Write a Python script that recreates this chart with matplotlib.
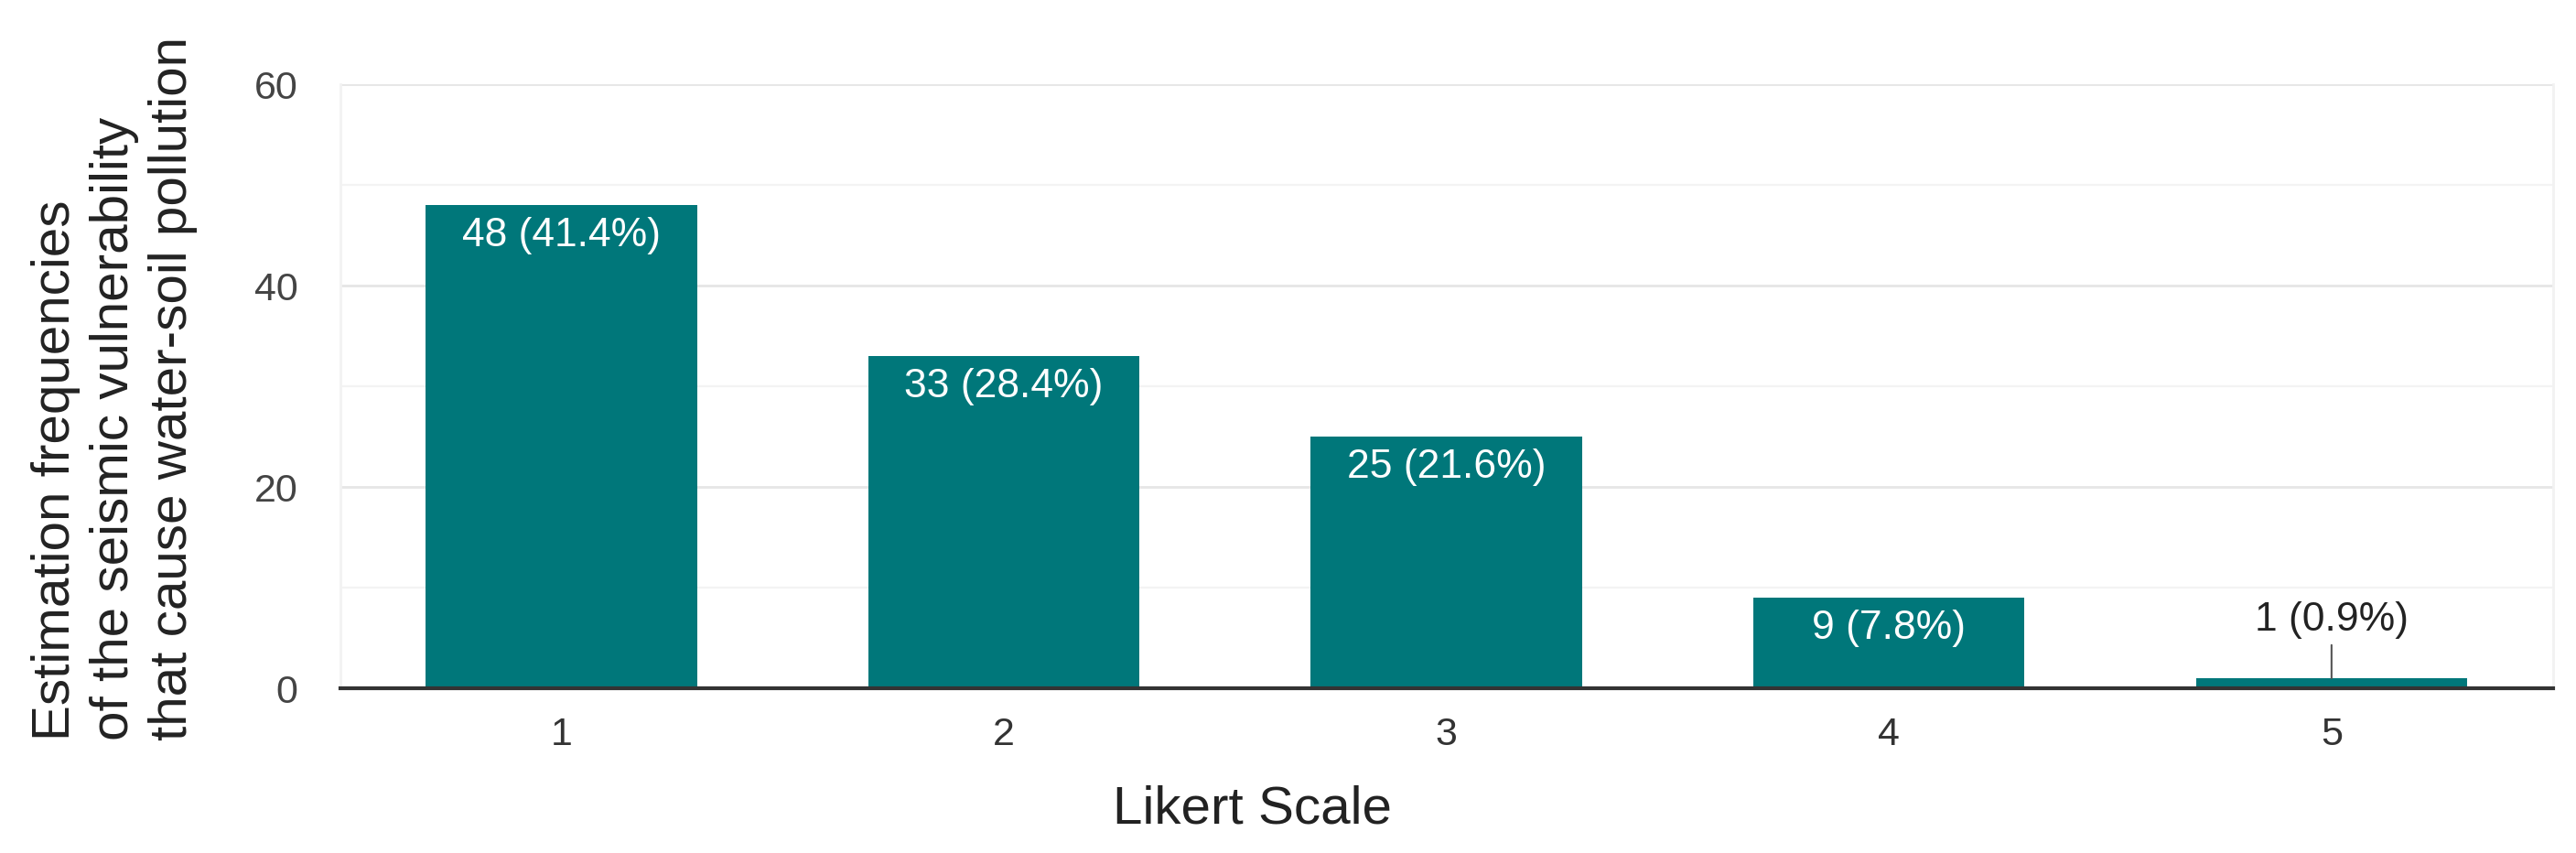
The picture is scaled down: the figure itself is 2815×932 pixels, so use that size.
import matplotlib
matplotlib.use("Agg")
import matplotlib.pyplot as plt
from matplotlib.ticker import MultipleLocator

categories = ["1", "2", "3", "4", "5"]
counts = [48, 33, 25, 9, 1]
percents = [41.4, 28.4, 21.6, 7.8, 0.9]
y_ticks = [0, 20, 40, 60]

plt.rcParams['font.family'] = ['Liberation Sans', 'DejaVu Sans']

bar_color = "#00777A"
fig = plt.figure(figsize=(28.15, 9.32), dpi=100)
ax = fig.add_axes([0.132, 0.193, 0.859, 0.708])

x = list(range(1, len(categories) + 1))
bars = ax.bar(x, counts, width=0.613, color=bar_color, zorder=3)

ax.set_xlim(0.5, 5.5)
ax.set_ylim(0, 60)
ax.set_yticks(y_ticks)
ax.yaxis.set_minor_locator(MultipleLocator(10))
ax.set_xticks(x)
ax.set_xticklabels(categories)

ax.grid(axis='y', which='major', color='#e6e6e6', linewidth=2.0, zorder=0)
ax.grid(axis='y', which='minor', color='#f3f3f3', linewidth=1.6, zorder=0)
ax.spines['top'].set_visible(False)
for s in ['left', 'right']:
    ax.spines[s].set_color('#f2f2f2')
    ax.spines[s].set_linewidth(2)
ax.spines['bottom'].set_color('#333333')
ax.spines['bottom'].set_linewidth(3)
ax.spines['bottom'].set_zorder(4)

ax.tick_params(axis='both', which='both', length=0, labelsize=31)
ax.tick_params(axis='y', pad=33, labelcolor='#444444')
ax.tick_params(axis='x', pad=22, labelcolor='#333333')

fig.text(1368 / 2815, 1 - 885 / 932, "Likert Scale", fontsize=42, color='#222222',
         ha='center', va='center')
fig.text(216 / 2815, 1 - 424.5 / 932,
         "Estimation frequencies\nof the seismic vulnerability\nthat cause water-soil pollution",
         fontsize=42, color='#222222', rotation=90, ha='right', va='center',
         multialignment='left', linespacing=1.24)

for xi, c, p in zip(x, counts, percents):
    label = f"{c} ({p}%)"
    if c >= 5:
        ax.annotate(label, xy=(xi, c), xytext=(0, -9), textcoords='offset points',
                    ha='center', va='top', color='white', fontsize=32, zorder=5)
    else:
        ax.annotate(label, xy=(xi, c), xytext=(xi, c + 5.8), textcoords='data',
                    ha='center', va='center', color='#222222', fontsize=32, zorder=5,
                    arrowprops=dict(arrowstyle='-', color='#555555', lw=1.5,
                                    shrinkA=3, shrinkB=0))

fig.savefig("out.png", dpi=100, facecolor='white')
